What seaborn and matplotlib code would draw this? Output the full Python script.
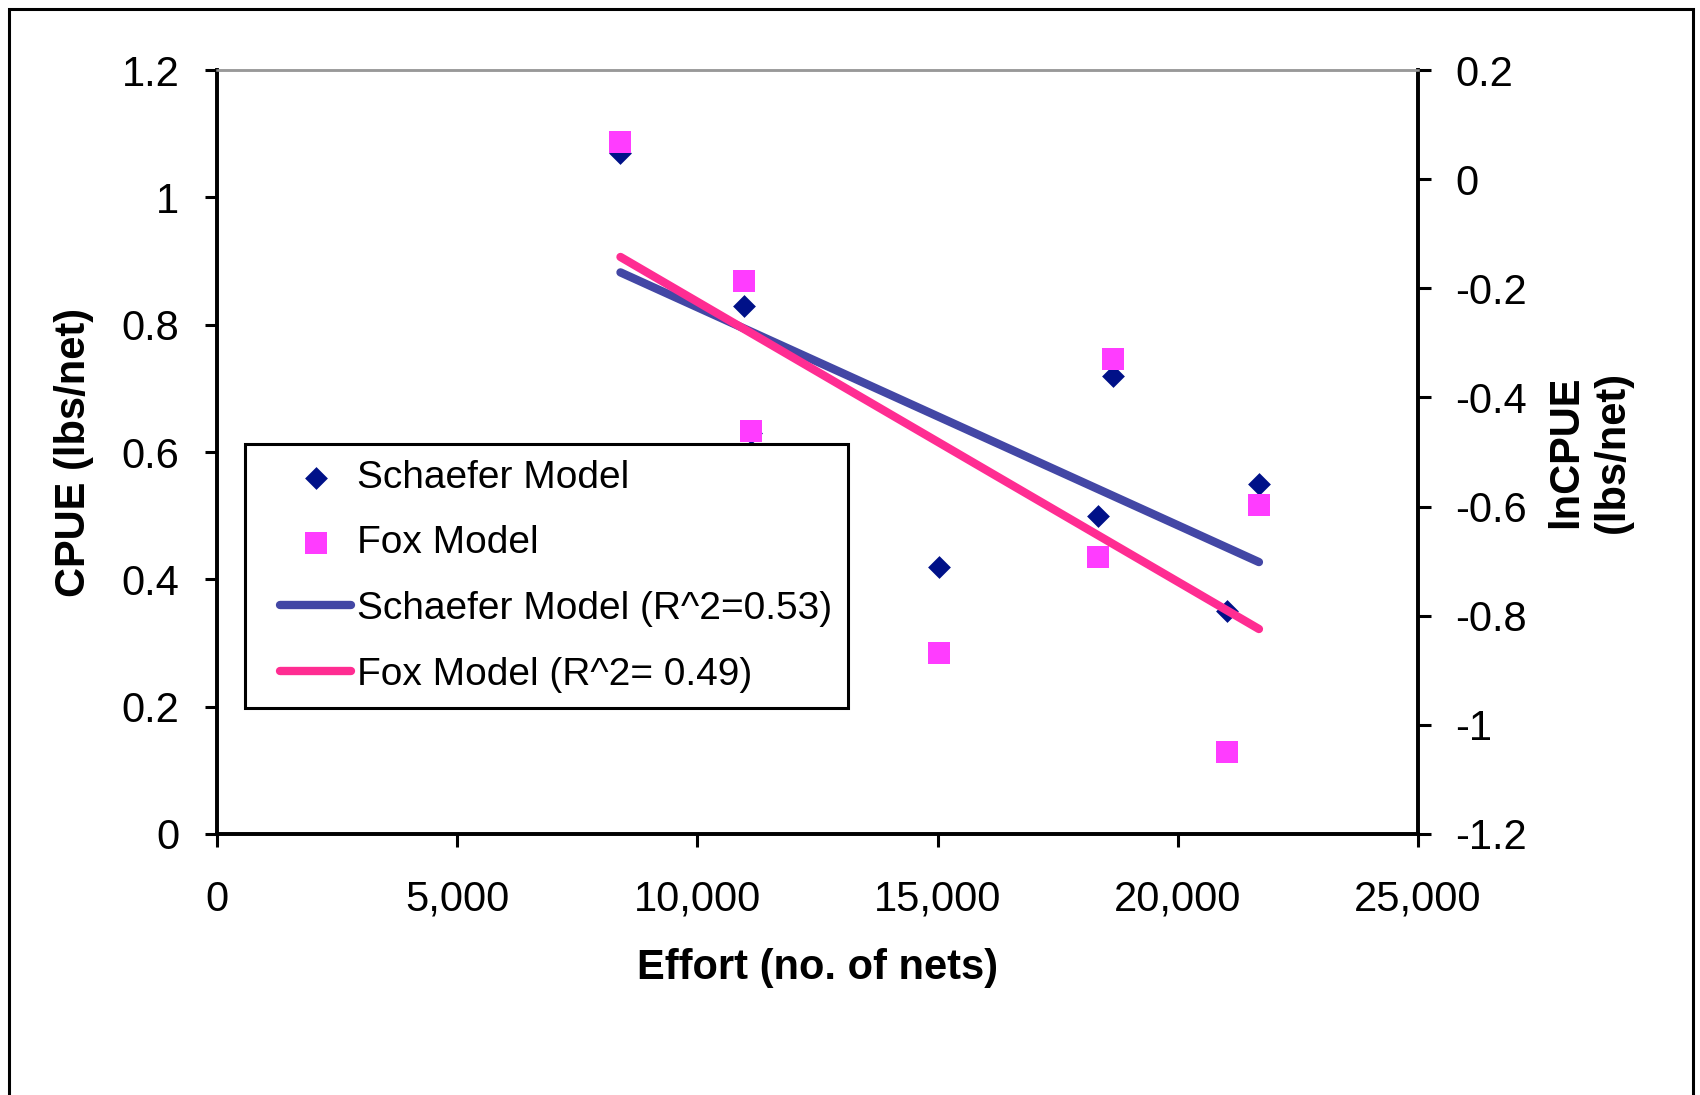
import numpy as np
import pandas as pd
import matplotlib
matplotlib.use('Agg')
import matplotlib.pyplot as plt
import seaborn as sns
from matplotlib.ticker import FuncFormatter, MultipleLocator
from matplotlib.patches import Rectangle
from matplotlib.lines import Line2D
from matplotlib.collections import PathCollection
from matplotlib.legend_handler import HandlerLine2D, HandlerPathCollection

# values
effort = [8400, 10970, 11120, 15030, 18340, 18660, 21030, 21690]
cpue = [1.07, 0.83, 0.63, 0.42, 0.50, 0.72, 0.35, 0.55]
ln_cpue = [0.068, -0.186, -0.462, -0.868, -0.693, -0.329, -1.050, -0.598]

df = pd.DataFrame({'effort': effort, 'cpue': cpue, 'ln_cpue': ln_cpue})

sns.set_theme(style='ticks')
plt.rcParams['font.family'] = ['Liberation Sans', 'DejaVu Sans']
plt.rcParams['axes.unicode_minus'] = False
plt.rcParams['text.color'] = 'black'
plt.rcParams['axes.labelcolor'] = 'black'

fig = plt.figure(figsize=(17, 10.95), dpi=100)
ax = fig.add_axes([0.1276, 0.2384, 0.7065, 0.6976])
ax2 = ax.twinx()

navy = '#001188'
blue = '#4347A5'
magenta = '#FF3CFF'
pink = '#FF2D92'

sns.scatterplot(data=df, x='effort', y='cpue', marker='D', s=135, color=navy,
                linewidth=0, ax=ax, label='Schaefer Model', zorder=3)
sns.regplot(data=df, x='effort', y='cpue', ci=None, scatter=False, truncate=True,
            ax=ax, label='Schaefer Model (R^2=0.53)',
            line_kws=dict(color=blue, lw=6, solid_capstyle='round', zorder=4))

sns.scatterplot(data=df, x='effort', y='ln_cpue', marker='s', s=250, color=magenta,
                linewidth=0, ax=ax2, label='Fox Model', zorder=3)
sns.regplot(data=df, x='effort', y='ln_cpue', ci=None, scatter=False, truncate=True,
            ax=ax2, label='Fox Model (R^2= 0.49)',
            line_kws=dict(color=pink, lw=6, solid_capstyle='round', zorder=4))

for a in (ax, ax2):
    if a.get_legend() is not None:
        a.get_legend().remove()

ax.set_xlim(0, 25000)
ax.set_ylim(0, 1.2)
ax2.set_ylim(-1.2, 0.2)
ax.xaxis.set_major_locator(MultipleLocator(5000))
ax.yaxis.set_major_locator(MultipleLocator(0.2))
ax2.yaxis.set_major_locator(MultipleLocator(0.2))
ax.xaxis.set_major_formatter(FuncFormatter(lambda v, p: f'{v:,.0f}'))
fmt = FuncFormatter(lambda v, p: f'{round(v, 2):g}' if abs(v) > 1e-9 else '0')
ax.yaxis.set_major_formatter(fmt)
ax2.yaxis.set_major_formatter(fmt)

for a in (ax, ax2):
    for side in ('left', 'right', 'bottom'):
        a.spines[side].set_linewidth(2.6)
        a.spines[side].set_color('black')
    a.spines['top'].set_color('#999999')
    a.spines['top'].set_linewidth(1.8)
    a.tick_params(axis='both', which='major', direction='out', length=9, width=2.2,
                  pad=18, labelsize=30, colors='black')
ax.tick_params(axis='x', pad=24)

ax.set_xlabel('Effort (no. of nets)', fontsize=30, fontweight='bold', va='center')
ax.xaxis.set_label_coords(0.5, -0.175)
ax.set_ylabel('CPUE (lbs/net)', fontsize=30, fontweight='bold', va='center')
ax.yaxis.set_label_coords(-0.119, 0.5)
ax2.set_ylabel('lnCPUE\n(lbs/net)', fontsize=30, fontweight='bold', va='center',
               linespacing=1.2)
ax2.yaxis.set_label_coords(1.143, 0.5)

h1, l1 = ax.get_legend_handles_labels()
h2, l2 = ax2.get_legend_handles_labels()
handles = [h1[0], h2[0], h1[1], h2[1]]
labels = [l1[0], l2[0], l1[1], l2[1]]
leg = ax2.legend(handles, labels, loc='upper left', bbox_to_anchor=(0.023, 0.51),
                 borderaxespad=0, fontsize=28, frameon=True, fancybox=False,
                 framealpha=1, edgecolor='black', handlelength=2.35,
                 handletextpad=0.15, labelspacing=0.76, borderpad=0.4,
                 handler_map={Line2D: HandlerLine2D(xpad=0.5),
                              PathCollection: HandlerPathCollection(xpad=0.5)})
leg.get_frame().set_linewidth(2.2)
leg.set_zorder(10)

fig.patches.append(Rectangle((0.005, -0.02), 0.991, 1.012, transform=fig.transFigure,
                             fill=False, lw=2.2, ec='black'))

fig.savefig('out.png', dpi=100, facecolor='white')
